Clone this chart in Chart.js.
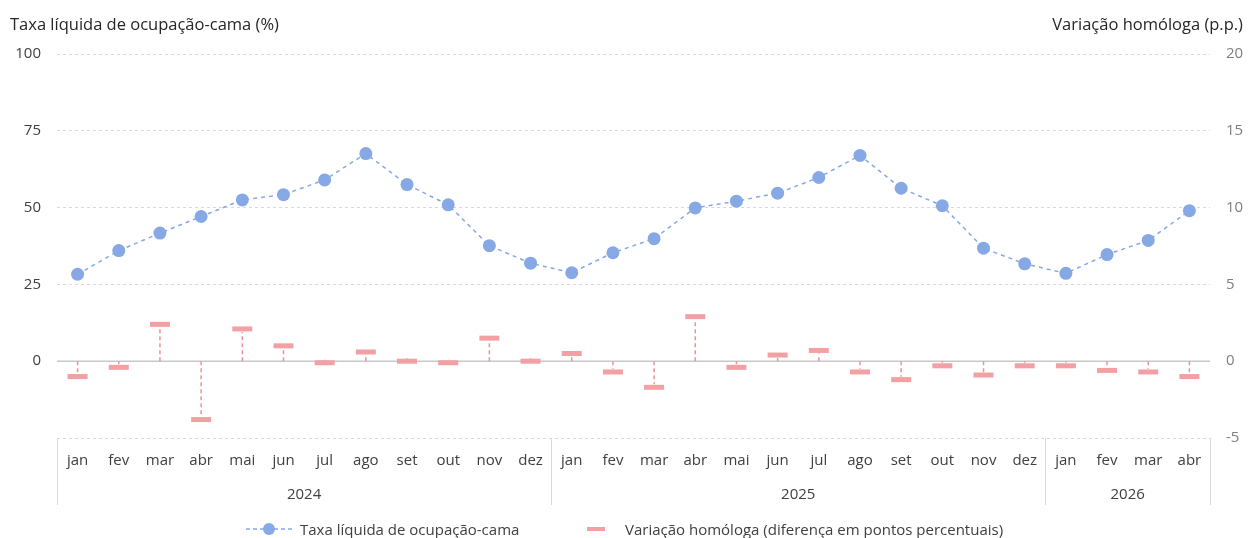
<!DOCTYPE html>
<html>
<head>
<meta charset="utf-8">
<script src="https://cdn.jsdelivr.net/npm/chart.js@4.4.1/dist/chart.umd.min.js"></script>
<style>
  body { margin: 0; background: #fff; font-family: "Open Sans", "Noto Sans", sans-serif; }
  #wrap { position: relative; width: 1248px; height: 538px; }
  canvas { position: absolute; left: 0; top: 0; }
  .ttl { position: absolute; top: 12px; font-size: 16.5px; color: #262626; white-space: nowrap; }
  #legend { position: absolute; top: 519px; left: 0; width: 1248px; height: 20px; font-size: 15px; color: #404040; }
  .lg { position: absolute; top: 0; white-space: nowrap; line-height: 20px; }
</style>
</head>
<body>
<div id="wrap">
  <canvas id="chart" width="1248" height="538"></canvas>
  <div class="ttl" style="left:10px">Taxa líquida de ocupação-cama (%)</div>
  <div class="ttl" style="right:5px">Variação homóloga (p.p.)</div>
  <div id="legend">
    <svg class="lg" style="left:246px;top:2px" width="46" height="16">
      <line x1="0" y1="8" x2="46" y2="8" stroke="#86A9E6" stroke-width="1.5" stroke-dasharray="4,3"/>
      <circle cx="23" cy="8" r="6" fill="#86A9E6"/>
    </svg>
    <span class="lg" style="left:300px">Taxa líquida de ocupação-cama</span>
    <svg class="lg" style="left:586px;top:2px" width="20" height="16">
      <rect x="1" y="6" width="18" height="4" fill="#F2A0A4"/>
    </svg>
    <span class="lg" style="left:625px">Variação homóloga (diferença em pontos percentuais)</span>
  </div>
</div>
<script>
// months on the x axis, grouped by year
const months = ['jan','fev','mar','abr','mai','jun','jul','ago','set','out','nov','dez',
                'jan','fev','mar','abr','mai','jun','jul','ago','set','out','nov','dez',
                'jan','fev','mar','abr'];
const yearLabels = ['2024', '2025', '2026'];
const yearSpans = [12, 12, 4];

// taxa liquida de ocupacao-cama (%), left axis
const taxa = [28.3, 36.0, 41.7, 47.1, 52.5, 54.2, 59.0, 67.6, 57.5, 50.9, 37.6, 31.9,
              28.8, 35.3, 39.9, 49.9, 52.1, 54.7, 59.8, 67.0, 56.3, 50.6, 36.8, 31.7,
              28.6, 34.7, 39.3, 49.0];

// variacao homologa (p.p.), right axis
const variacao = [-1.0, -0.4, 2.4, -3.8, 2.1, 1.0, -0.1, 0.6, 0.0, -0.1, 1.5, 0.0,
                  0.5, -0.7, -1.7, 2.9, -0.4, 0.4, 0.7, -0.7, -1.2, -0.3, -0.9, -0.3,
                  -0.3, -0.6, -0.7, -1.0];

const leftTicks = [-25, 0, 25, 50, 75, 100];
const rightTicks = [-5, 0, 5, 10, 15, 20];

const blue = '#86A9E6';
const pink = '#F2A0A4';
const gridGray = '#D9D9D9';
const fontFamily = '"Open Sans", "Noto Sans", sans-serif';

// zero line, drop lines, year row and separators
const extras = {
  id: 'extras',
  beforeDatasetsDraw(chart) {
    const { ctx, chartArea, scales } = chart;
    const y0 = scales.y1.getPixelForValue(0);
    ctx.save();
    ctx.strokeStyle = '#C8C8C8';
    ctx.lineWidth = 1.5;
    ctx.beginPath();
    ctx.moveTo(chartArea.left, y0);
    ctx.lineTo(chartArea.right, y0);
    ctx.stroke();

    const meta = chart.getDatasetMeta(1);
    ctx.strokeStyle = '#EE9296';
    ctx.lineWidth = 1.5;
    ctx.setLineDash([4, 3]);
    meta.data.forEach(pt => {
      const dir = pt.y < y0 ? 1 : -1;
      ctx.beginPath();
      ctx.moveTo(pt.x, y0);
      ctx.lineTo(pt.x, pt.y + dir * 3);
      ctx.stroke();
    });
    ctx.restore();
  },
  afterDraw(chart) {
    const { ctx, chartArea, scales } = chart;
    const x = scales.x;
    const half = (x.getPixelForValue(1) - x.getPixelForValue(0)) / 2;
    const top = chartArea.bottom;
    const bottom = 505;
    ctx.save();
    ctx.strokeStyle = gridGray;
    ctx.lineWidth = 1;
    ctx.fillStyle = '#404040';
    ctx.font = '15px ' + fontFamily;
    ctx.textAlign = 'center';
    ctx.textBaseline = 'middle';
    let start = 0;
    const edge = i => Math.round(x.getPixelForValue(i) - half) + 0.5;
    ctx.beginPath();
    ctx.moveTo(edge(0), top);
    ctx.lineTo(edge(0), bottom);
    ctx.stroke();
    yearLabels.forEach((lab, k) => {
      const end = start + yearSpans[k];
      const xr = edge(end);
      ctx.beginPath();
      ctx.moveTo(xr, top);
      ctx.lineTo(xr, bottom);
      ctx.stroke();
      const cx = (x.getPixelForValue(start) + x.getPixelForValue(end - 1)) / 2;
      ctx.fillText(lab, cx, 495);
      start = end;
    });
    ctx.restore();
  }
};

new Chart(document.getElementById('chart'), {
  type: 'line',
  data: {
    labels: months,
    datasets: [
      {
        label: 'Taxa líquida de ocupação-cama',
        data: taxa,
        yAxisID: 'y',
        borderColor: blue,
        backgroundColor: blue,
        borderWidth: 1.5,
        borderDash: [4, 4],
        pointRadius: 6.5,
        pointBorderWidth: 0,
        pointBackgroundColor: blue,
        tension: 0
      },
      {
        label: 'Variação homóloga (diferença em pontos percentuais)',
        data: variacao,
        yAxisID: 'y1',
        showLine: false,
        pointStyle: 'line',
        pointRadius: 10,
        pointBorderWidth: 5,
        pointBorderColor: pink,
        borderColor: pink,
        backgroundColor: pink
      }
    ]
  },
  options: {
    responsive: false,
    animation: false,
    layout: { padding: { top: 54, left: 0, right: 0, bottom: 0 } },
    plugins: {
      legend: { display: false },
      tooltip: { enabled: false }
    },
    scales: {
      x: {
        offset: true,
        grid: { display: false, drawTicks: false },
        border: { display: false },
        ticks: {
          autoSkip: false,
          maxRotation: 0,
          padding: 14,
          color: '#404040',
          font: { family: fontFamily, size: 15 }
        },
        afterFit(s) { s.height = 100; }
      },
      y: {
        position: 'left',
        min: -25,
        max: 100,
        afterBuildTicks(s) { s.ticks = leftTicks.map(v => ({ value: v })); },
        grid: { color: gridGray, lineWidth: 1, drawTicks: false },
        border: { display: false, dash: [3, 3] },
        ticks: {
          padding: 16,
          color: '#404040',
          font: { family: fontFamily, size: 15 },
          callback: v => (v < 0 ? '' : v)
        },
        afterFit(s) { s.width = 57; }
      },
      y1: {
        position: 'right',
        min: -5,
        max: 20,
        afterBuildTicks(s) { s.ticks = rightTicks.map(v => ({ value: v })); },
        grid: { display: false, drawTicks: false },
        border: { display: false },
        ticks: {
          padding: 16,
          color: '#7F7F7F',
          font: { family: fontFamily, size: 15 }
        },
        afterFit(s) { s.width = 38; }
      }
    }
  },
  plugins: [extras]
});
</script>
</body>
</html>
